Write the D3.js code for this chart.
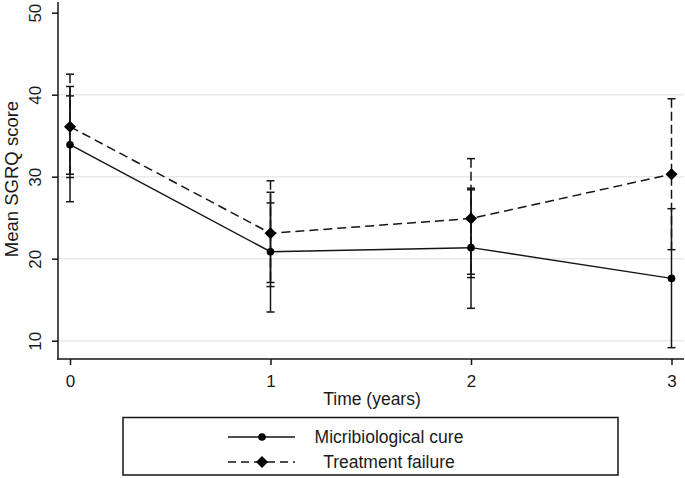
<!DOCTYPE html>
<html>
<head>
<meta charset="utf-8">
<script src="https://cdn.jsdelivr.net/npm/d3@7"></script>
<style>
  html, body { margin: 0; padding: 0; background: #fff; }
  svg { display: block; }
  text { font-family: "Liberation Sans", Arial, sans-serif; fill: #1a1a1a; }
</style>
</head>
<body>
<svg id="chart" width="685" height="478"></svg>
<script>
// ---- data ----
const years = [0, 1, 2, 3];
const xTicks = [0, 1, 2, 3];
const yTicks = [10, 20, 30, 40, 50];
const gridTicks = [10, 20, 30, 40];

const cureName = "Micribiological cure";
const cureMean = [33.9, 20.85, 21.35, 17.6];
const cureLo   = [26.95, 13.5, 13.95, 9.15];
const cureHi   = [41.0, 28.1, 28.6, 26.1];

const failName = "Treatment failure";
const failMean = [36.1, 23.1, 24.9, 30.3];
const failLo   = [29.9, 16.6, 17.7, 21.1];
const failHi   = [42.5, 29.5, 32.2, 39.5];

// additional caps visible on the error bars
const extraYears = [0, 1, 2];
const extraLo = [30.3, 17.1, 18.1];
const extraHi = [39.85, 26.8, 28.4];

const xTitle = "Time (years)";
const yTitle = "Mean SGRQ score";

// ---- layout ----
const svg = d3.select("#chart");
const ink = "#151515";
const x = d3.scaleLinear().domain([0, 3]).range([70, 671.5]);
const y = d3.scaleLinear().domain([7.77, 51.3]).range([359, 2]);
const axisLeftX = 58, axisRightX = 684, axisBottomY = 359, axisTopY = 2;
const sw = 1.5;

// gridlines
svg.append("g").selectAll("line").data(gridTicks).join("line")
  .attr("x1", axisLeftX).attr("x2", axisRightX)
  .attr("y1", d => y(d)).attr("y2", d => y(d))
  .attr("stroke", "#e9e9e9").attr("stroke-width", 1.5);

// y axis
const yAxis = d3.axisLeft(y).tickValues(yTicks).tickSize(6).tickSizeOuter(0).tickFormat(d3.format("d"));
const gy = svg.append("g").attr("transform", `translate(${axisLeftX},0)`).call(yAxis);
gy.select(".domain").remove();
gy.selectAll(".tick line").attr("stroke", ink).attr("stroke-width", sw);
gy.selectAll(".tick text")
  .attr("x", 0).attr("dy", null).attr("y", 0)
  .attr("transform", "translate(-17.5,0) rotate(-90)")
  .attr("text-anchor", "middle")
  .style("font-size", "17px").style("font-family", "'Liberation Sans', Arial, sans-serif").attr("fill", ink);
svg.append("line").attr("x1", axisLeftX).attr("x2", axisLeftX)
  .attr("y1", axisTopY).attr("y2", axisBottomY + 0.7)
  .attr("stroke", ink).attr("stroke-width", sw);

// x axis
const xAxis = d3.axisBottom(x).tickValues(xTicks).tickSize(6).tickSizeOuter(0).tickFormat(d3.format("d"));
const gx = svg.append("g").attr("transform", `translate(0,${axisBottomY})`).call(xAxis);
gx.select(".domain").remove();
gx.selectAll(".tick line").attr("stroke", ink).attr("stroke-width", sw);
gx.selectAll(".tick text").attr("y", 28).attr("dy", null)
  .style("font-size", "17px").style("font-family", "'Liberation Sans', Arial, sans-serif").attr("fill", ink);
svg.append("line").attr("x1", axisLeftX - 0.7).attr("x2", axisRightX)
  .attr("y1", axisBottomY).attr("y2", axisBottomY)
  .attr("stroke", ink).attr("stroke-width", sw);

// axis titles
svg.append("text").text(xTitle)
  .attr("x", 372).attr("y", 404.5).attr("text-anchor", "middle")
  .style("font-size", "17.5px");
svg.append("text").text(yTitle)
  .attr("transform", `translate(17.5,${179}) rotate(-90)`).attr("text-anchor", "middle")
  .style("font-size", "18.5px");

// error bars
const capW = 4;
function errorBars(xs, lo, hi, dash) {
  const g = svg.append("g");
  const data = xs.map((d, i) => ({ x: d, lo: lo[i], hi: hi[i] }));
  g.selectAll("line.v").data(data).join("line").attr("class", "v")
    .attr("x1", d => x(d.x)).attr("x2", d => x(d.x))
    .attr("y1", d => y(d.hi)).attr("y2", d => y(d.lo))
    .attr("stroke", ink).attr("stroke-width", sw)
    .attr("stroke-dasharray", dash);
  ["lo", "hi"].forEach(k => {
    g.selectAll("line.c" + k).data(data).join("line").attr("class", "c" + k)
      .attr("x1", d => x(d.x) - capW).attr("x2", d => x(d.x) + capW)
      .attr("y1", d => y(d[k])).attr("y2", d => y(d[k]))
      .attr("stroke", ink).attr("stroke-width", sw);
  });
}
errorBars(years, failLo, failHi, "9,4");
errorBars(years, cureLo, cureHi, null);
errorBars(extraYears, extraLo, extraHi, null);

// connecting lines
const line = d3.line().x(d => x(d[0])).y(d => y(d[1]));
svg.append("path").datum(years.map((d, i) => [d, cureMean[i]]))
  .attr("d", line).attr("fill", "none").attr("stroke", ink).attr("stroke-width", sw);
svg.append("path").datum(years.map((d, i) => [d, failMean[i]]))
  .attr("d", line).attr("fill", "none").attr("stroke", ink).attr("stroke-width", sw)
  .attr("stroke-dasharray", "9,5");

// markers
const diamond = s => `M0,${-s}L${s},0L0,${s}L${-s},0Z`;
svg.append("g").selectAll("circle").data(years).join("circle")
  .attr("cx", d => x(d)).attr("cy", (d, i) => y(cureMean[i])).attr("r", 3.8).attr("fill", "#000");
svg.append("g").selectAll("path").data(years).join("path")
  .attr("d", diamond(6))
  .attr("transform", (d, i) => `translate(${x(d)},${y(failMean[i])})`).attr("fill", "#000");

// legend
const lg = svg.append("g");
lg.append("rect").attr("x", 123).attr("y", 417.5).attr("width", 495).attr("height", 57.5)
  .attr("fill", "#fff").attr("stroke", ink).attr("stroke-width", sw);
const legendItems = [
  { name: cureName, dash: null, type: "circle", cy: 437 },
  { name: failName, dash: "8,5", type: "diamond", cy: 462 }
];
legendItems.forEach(it => {
  lg.append("line").attr("x1", 228).attr("x2", 295).attr("y1", it.cy).attr("y2", it.cy)
    .attr("stroke", ink).attr("stroke-width", sw).attr("stroke-dasharray", it.dash);
  if (it.type === "circle") {
    lg.append("circle").attr("cx", 262).attr("cy", it.cy).attr("r", 3.8).attr("fill", "#000");
  } else {
    lg.append("path").attr("d", diamond(6)).attr("transform", `translate(262,${it.cy})`).attr("fill", "#000");
  }
  lg.append("text").text(it.name).attr("x", 389).attr("y", it.cy + 6.3)
    .attr("text-anchor", "middle").style("font-size", "17.5px");
});
</script>
</body>
</html>
